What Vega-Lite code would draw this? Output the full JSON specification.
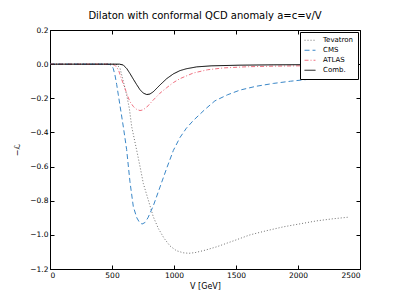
{
  "$schema": "https://vega.github.io/schema/vega-lite/v6.json",
  "autosize": "none",
  "width": 310,
  "height": 239,
  "padding": {"left": 50, "top": 30, "right": 40, "bottom": 31},
  "background": "white",
  "title": {"text": "Dilaton with conformal QCD anomaly a=c=v/V", "font": "DejaVu Sans", "fontSize": 10, "fontWeight": "normal", "color": "black", "offset": 5},
  "config": {
    "view": {"stroke": "black", "strokeWidth": 1},
    "axis": {"grid": false, "domainColor": "black", "tickColor": "black", "labelFont": "DejaVu Sans", "titleFont": "DejaVu Sans", "labelFontSize": 7.5, "titleFontSize": 8, "titleFontWeight": "normal", "labelColor": "black", "titleColor": "black", "tickSize": -4, "labelPadding": 6}
  },
  "data": {"values": [
    {"V": 0, "L": 0, "s": "Tevatron"}, {"V": 500, "L": 0, "s": "Tevatron"}, {"V": 540, "L": -0.003, "s": "Tevatron"}, {"V": 565, "L": -0.025, "s": "Tevatron"}, {"V": 591, "L": -0.1, "s": "Tevatron"}, {"V": 618, "L": -0.18, "s": "Tevatron"}, {"V": 640, "L": -0.26, "s": "Tevatron"}, {"V": 659, "L": -0.367, "s": "Tevatron"}, {"V": 699, "L": -0.504, "s": "Tevatron"}, {"V": 726, "L": -0.6, "s": "Tevatron"}, {"V": 753, "L": -0.7, "s": "Tevatron"}, {"V": 793, "L": -0.797, "s": "Tevatron"}, {"V": 833, "L": -0.894, "s": "Tevatron"}, {"V": 874, "L": -0.963, "s": "Tevatron"}, {"V": 920, "L": -1.02, "s": "Tevatron"}, {"V": 968, "L": -1.065, "s": "Tevatron"}, {"V": 1020, "L": -1.093, "s": "Tevatron"}, {"V": 1075, "L": -1.105, "s": "Tevatron"}, {"V": 1120, "L": -1.108, "s": "Tevatron"}, {"V": 1170, "L": -1.104, "s": "Tevatron"}, {"V": 1250, "L": -1.09, "s": "Tevatron"}, {"V": 1344, "L": -1.07, "s": "Tevatron"}, {"V": 1480, "L": -1.035, "s": "Tevatron"}, {"V": 1613, "L": -1.0, "s": "Tevatron"}, {"V": 1750, "L": -0.975, "s": "Tevatron"}, {"V": 1882, "L": -0.953, "s": "Tevatron"}, {"V": 2020, "L": -0.935, "s": "Tevatron"}, {"V": 2151, "L": -0.918, "s": "Tevatron"}, {"V": 2280, "L": -0.906, "s": "Tevatron"}, {"V": 2400, "L": -0.897, "s": "Tevatron"},
    {"V": 0, "L": 0, "s": "CMS"}, {"V": 450, "L": 0, "s": "CMS"}, {"V": 480, "L": -0.002, "s": "CMS"}, {"V": 497, "L": -0.008, "s": "CMS"}, {"V": 510, "L": -0.025, "s": "CMS"}, {"V": 524, "L": -0.064, "s": "CMS"}, {"V": 538, "L": -0.12, "s": "CMS"}, {"V": 551, "L": -0.18, "s": "CMS"}, {"V": 565, "L": -0.245, "s": "CMS"}, {"V": 592, "L": -0.37, "s": "CMS"}, {"V": 618, "L": -0.5, "s": "CMS"}, {"V": 645, "L": -0.69, "s": "CMS"}, {"V": 672, "L": -0.835, "s": "CMS"}, {"V": 700, "L": -0.9, "s": "CMS"}, {"V": 720, "L": -0.925, "s": "CMS"}, {"V": 742, "L": -0.937, "s": "CMS"}, {"V": 765, "L": -0.928, "s": "CMS"}, {"V": 790, "L": -0.9, "s": "CMS"}, {"V": 833, "L": -0.83, "s": "CMS"}, {"V": 887, "L": -0.72, "s": "CMS"}, {"V": 941, "L": -0.61, "s": "CMS"}, {"V": 995, "L": -0.505, "s": "CMS"}, {"V": 1048, "L": -0.43, "s": "CMS"}, {"V": 1100, "L": -0.375, "s": "CMS"}, {"V": 1156, "L": -0.33, "s": "CMS"}, {"V": 1250, "L": -0.265, "s": "CMS"}, {"V": 1330, "L": -0.215, "s": "CMS"}, {"V": 1430, "L": -0.18, "s": "CMS"}, {"V": 1532, "L": -0.152, "s": "CMS"}, {"V": 1660, "L": -0.13, "s": "CMS"}, {"V": 1801, "L": -0.113, "s": "CMS"}, {"V": 1940, "L": -0.1, "s": "CMS"}, {"V": 2070, "L": -0.09, "s": "CMS"}, {"V": 2200, "L": -0.082, "s": "CMS"}, {"V": 2400, "L": -0.073, "s": "CMS"},
    {"V": 0, "L": 0, "s": "ATLAS"}, {"V": 490, "L": 0, "s": "ATLAS"}, {"V": 520, "L": -0.005, "s": "ATLAS"}, {"V": 540, "L": -0.02, "s": "ATLAS"}, {"V": 555, "L": -0.04, "s": "ATLAS"}, {"V": 578, "L": -0.09, "s": "ATLAS"}, {"V": 605, "L": -0.142, "s": "ATLAS"}, {"V": 625, "L": -0.185, "s": "ATLAS"}, {"V": 645, "L": -0.22, "s": "ATLAS"}, {"V": 672, "L": -0.248, "s": "ATLAS"}, {"V": 699, "L": -0.265, "s": "ATLAS"}, {"V": 726, "L": -0.272, "s": "ATLAS"}, {"V": 750, "L": -0.268, "s": "ATLAS"}, {"V": 780, "L": -0.252, "s": "ATLAS"}, {"V": 833, "L": -0.21, "s": "ATLAS"}, {"V": 887, "L": -0.17, "s": "ATLAS"}, {"V": 941, "L": -0.138, "s": "ATLAS"}, {"V": 995, "L": -0.108, "s": "ATLAS"}, {"V": 1048, "L": -0.085, "s": "ATLAS"}, {"V": 1156, "L": -0.052, "s": "ATLAS"}, {"V": 1270, "L": -0.033, "s": "ATLAS"}, {"V": 1400, "L": -0.022, "s": "ATLAS"}, {"V": 1600, "L": -0.015, "s": "ATLAS"}, {"V": 1800, "L": -0.012, "s": "ATLAS"}, {"V": 2000, "L": -0.01, "s": "ATLAS"}, {"V": 2200, "L": -0.009, "s": "ATLAS"}, {"V": 2400, "L": -0.008, "s": "ATLAS"},
    {"V": 0, "L": 0, "s": "Comb."}, {"V": 560, "L": 0, "s": "Comb."}, {"V": 590, "L": -0.005, "s": "Comb."}, {"V": 618, "L": -0.025, "s": "Comb."}, {"V": 645, "L": -0.055, "s": "Comb."}, {"V": 672, "L": -0.088, "s": "Comb."}, {"V": 699, "L": -0.12, "s": "Comb."}, {"V": 726, "L": -0.15, "s": "Comb."}, {"V": 753, "L": -0.17, "s": "Comb."}, {"V": 780, "L": -0.178, "s": "Comb."}, {"V": 806, "L": -0.175, "s": "Comb."}, {"V": 833, "L": -0.162, "s": "Comb."}, {"V": 887, "L": -0.122, "s": "Comb."}, {"V": 941, "L": -0.085, "s": "Comb."}, {"V": 995, "L": -0.057, "s": "Comb."}, {"V": 1048, "L": -0.038, "s": "Comb."}, {"V": 1100, "L": -0.027, "s": "Comb."}, {"V": 1183, "L": -0.016, "s": "Comb."}, {"V": 1300, "L": -0.01, "s": "Comb."}, {"V": 1532, "L": -0.006, "s": "Comb."}, {"V": 1800, "L": -0.004, "s": "Comb."}, {"V": 2100, "L": -0.003, "s": "Comb."}, {"V": 2400, "L": -0.002, "s": "Comb."}
  ]},
  "layer": [
    {
      "mark": {"type": "line", "strokeWidth": 1, "clip": true},
      "encoding": {
        "x": {"field": "V", "type": "quantitative", "scale": {"domain": [0, 2500], "nice": false}, "axis": {"title": "V [GeV]", "values": [0, 500, 1000, 1500, 2000, 2500], "format": "d", "titlePadding": 4}},
        "y": {"field": "L", "type": "quantitative", "scale": {"domain": [-1.2, 0.2], "nice": false}, "axis": {"title": "−ℒ", "values": [-1.2, -1.0, -0.8, -0.6, -0.4, -0.2, 0.0, 0.2], "format": ".1f", "titlePadding": 8}},
        "detail": {"field": "s"},
        "color": {"field": "s", "type": "nominal", "scale": {"domain": ["Tevatron", "CMS", "ATLAS", "Comb."], "range": ["#707070", "#3a87c8", "#f07080", "#000000"]}, "legend": {"title": null, "orient": "top-right", "offset": 2, "strokeColor": "black", "fillColor": "white", "padding": 4, "labelFont": "DejaVu Sans", "labelFontSize": 7, "labelColor": "black", "labelAlign": "left", "symbolType": "stroke", "symbolSize": 120, "symbolStrokeWidth": 1, "rowPadding": 1, "clipHeight": 8.5, "cornerRadius": 0, "labelOffset": 7}},
        "strokeDash": {"field": "s", "type": "nominal", "scale": {"domain": ["Tevatron", "CMS", "ATLAS", "Comb."], "range": [[1, 2], [5, 3], [4, 2, 1, 2], [1, 0]]}, "legend": null}
      }
    },
    {
      "mark": {"type": "line", "opacity": 0},
      "encoding": {
        "x": {"field": "V", "type": "quantitative", "axis": {"orient": "top", "labels": false, "title": null, "values": [0, 500, 1000, 1500, 2000, 2500], "domain": false}},
        "y": {"field": "L", "type": "quantitative", "axis": {"orient": "right", "labels": false, "title": null, "values": [-1.2, -1.0, -0.8, -0.6, -0.4, -0.2, 0.0, 0.2], "domain": false}},
        "detail": {"field": "s"}
      }
    }
  ],
  "resolve": {"axis": {"x": "independent", "y": "independent"}}
}
